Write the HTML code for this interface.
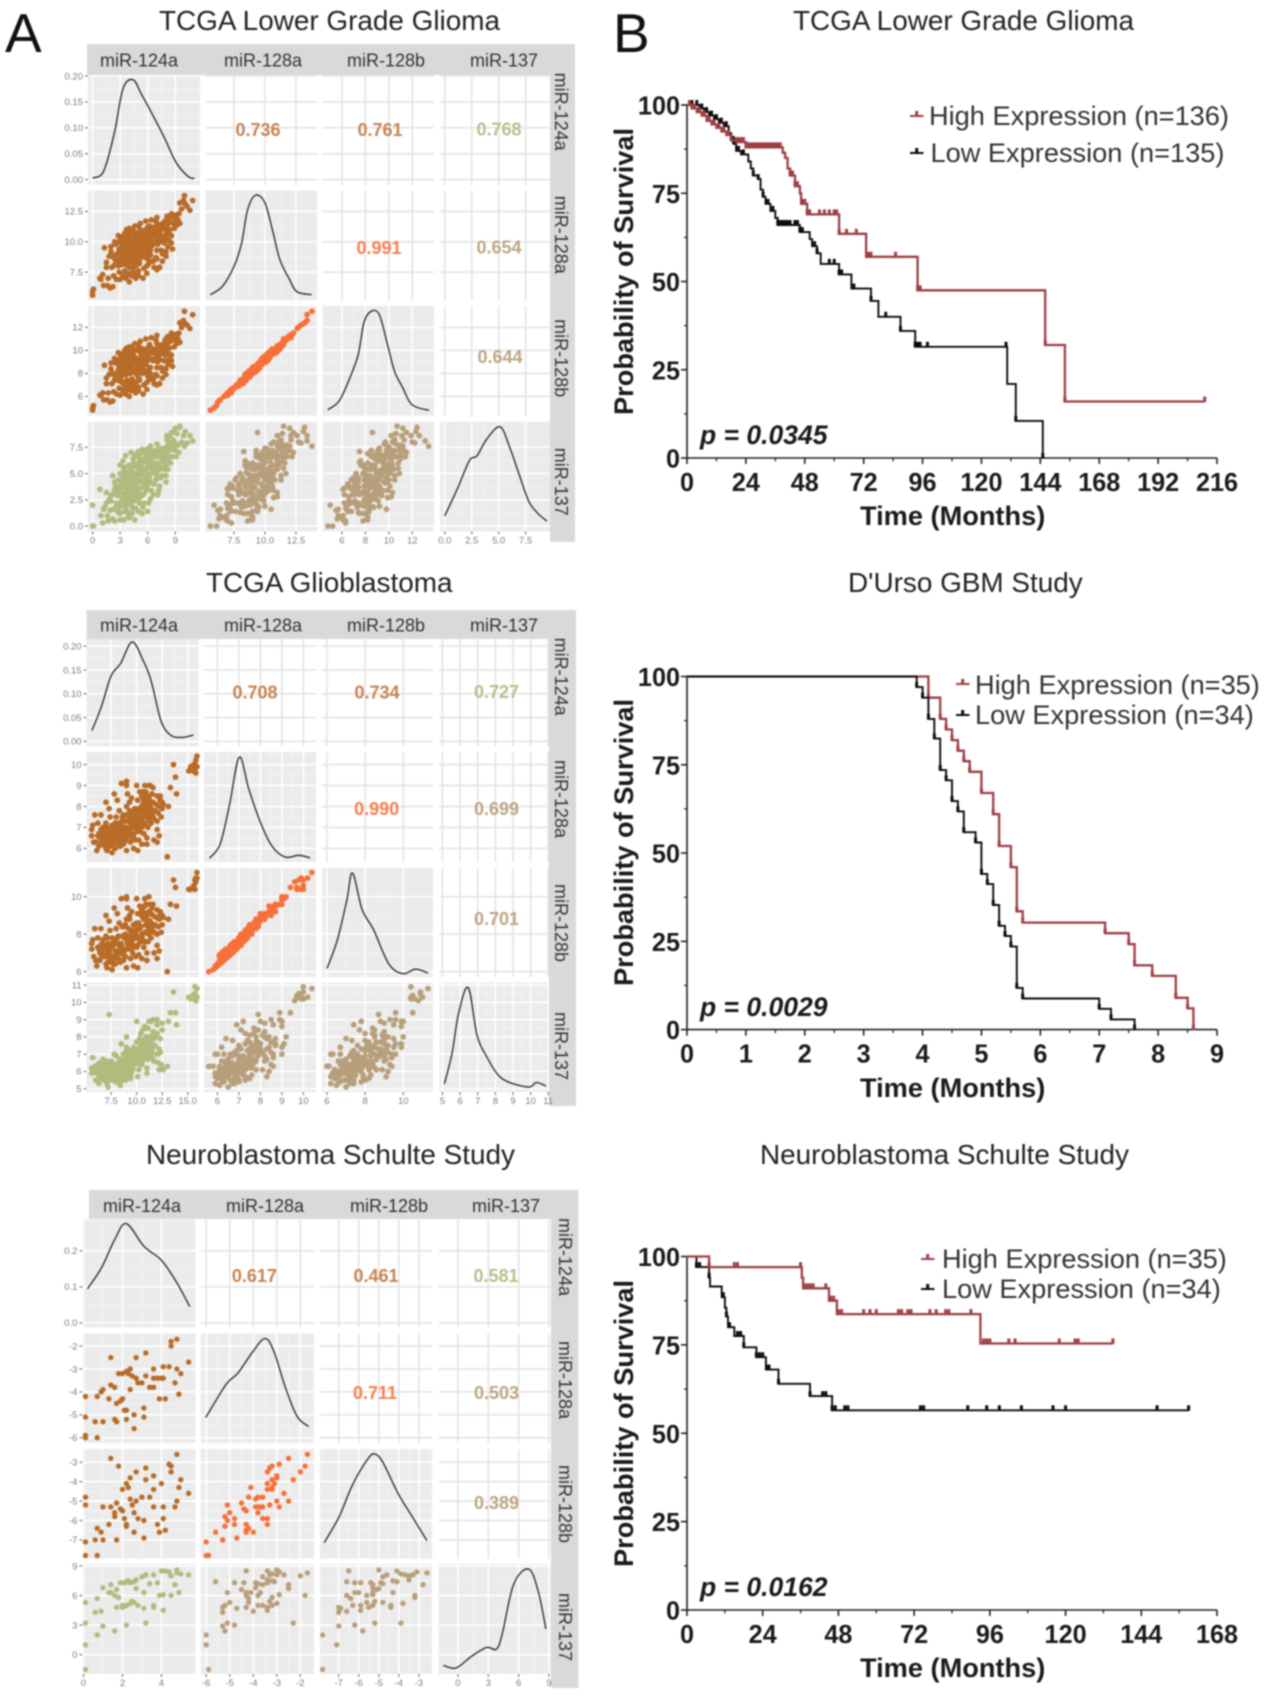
<!DOCTYPE html>
<html lang="en">
<head>
<meta charset="utf-8">
<title>miRNA correlation matrices and survival curves</title>
<style>
html,body{margin:0;padding:0;background:#fff;width:1269px;height:1702px;overflow:hidden}
svg{display:block;filter:blur(0.8px);font-family:"Liberation Sans",sans-serif}
.ttl{font-size:27.9px;fill:#222}
.strip{font-size:18px;fill:#333;text-anchor:middle;dominant-baseline:central}
.corr{font-size:18px;font-weight:bold;text-anchor:middle;dominant-baseline:central}
.tick-s{font-size:9.5px;fill:#7c7c7c}
.tick-k{font-size:26px;font-weight:bold;fill:#1a1a1a}
.ax{font-size:27.2px;font-weight:bold;fill:#1a1a1a}
.pv{font-size:26.5px;font-weight:bold;font-style:italic;fill:#1a1a1a}
.lg{font-size:27.2px;fill:#333}
</style>
</head>
<body>
<svg id="fig" xmlns="http://www.w3.org/2000/svg" width="1269" height="1702" viewBox="0 0 1269 1702">
<rect width="1269" height="1702" fill="#fff"/>
<g id="matrices"></g>
<g id="km"></g>

<text x="5" y="52" font-size="55" fill="#111">A</text>
<text x="613" y="52" font-size="55" fill="#111">B</text>

<text class="ttl" x="159" y="30">TCGA Lower Grade Glioma</text>
<text class="ttl" x="206" y="592">TCGA Glioblastoma</text>
<text class="ttl" x="146" y="1164">Neuroblastoma Schulte Study</text>
<text class="ttl" x="793" y="30">TCGA Lower Grade Glioma</text>
<text class="ttl" x="848" y="592">D'Urso GBM Study</text>
<text class="ttl" x="760" y="1164">Neuroblastoma Schulte Study</text>

<!-- matrix 1 strips -->
<g>
<text class="strip" x="139" y="60.5">miR-124a</text>
<text class="strip" x="263" y="60.5">miR-128a</text>
<text class="strip" x="386" y="60.5">miR-128b</text>
<text class="strip" x="504" y="60.5">miR-137</text>
<text class="strip" transform="translate(561,111.6) rotate(90)">miR-124a</text>
<text class="strip" transform="translate(561,234.8) rotate(90)">miR-128a</text>
<text class="strip" transform="translate(561,358.2) rotate(90)">miR-128b</text>
<text class="strip" transform="translate(561,481.8) rotate(90)">miR-137</text>
</g>
<g>
<text class="strip" x="139" y="625.4">miR-124a</text>
<text class="strip" x="263" y="625.4">miR-128a</text>
<text class="strip" x="386" y="625.4">miR-128b</text>
<text class="strip" x="504" y="625.4">miR-137</text>
<text class="strip" transform="translate(561,676.6) rotate(90)">miR-124a</text>
<text class="strip" transform="translate(561,799) rotate(90)">miR-128a</text>
<text class="strip" transform="translate(561,923) rotate(90)">miR-128b</text>
<text class="strip" transform="translate(561,1046) rotate(90)">miR-137</text>
</g>
<g>
<text class="strip" x="142" y="1206">miR-124a</text>
<text class="strip" x="265" y="1206">miR-128a</text>
<text class="strip" x="389" y="1206">miR-128b</text>
<text class="strip" x="506" y="1206">miR-137</text>
<text class="strip" transform="translate(565,1257) rotate(90)">miR-124a</text>
<text class="strip" transform="translate(565,1380) rotate(90)">miR-128a</text>
<text class="strip" transform="translate(565,1504) rotate(90)">miR-128b</text>
<text class="strip" transform="translate(565,1627) rotate(90)">miR-137</text>
</g>

<!-- correlations -->
<g>
<text class="corr" x="258" y="130" fill="#c68352">0.736</text>
<text class="corr" x="380" y="130" fill="#c68352">0.761</text>
<text class="corr" x="499" y="129.6" fill="#b5c08c">0.768</text>
<text class="corr" x="379" y="248" fill="#f67e4e">0.991</text>
<text class="corr" x="499" y="247.5" fill="#bda583">0.654</text>
<text class="corr" x="500" y="357" fill="#bda583">0.644</text>
</g>
<g>
<text class="corr" x="255" y="692.5" fill="#c68352">0.708</text>
<text class="corr" x="377" y="692.5" fill="#c68352">0.734</text>
<text class="corr" x="496.5" y="692" fill="#b5c08c">0.727</text>
<text class="corr" x="376.6" y="809" fill="#f67e4e">0.990</text>
<text class="corr" x="496.5" y="809" fill="#bda583">0.699</text>
<text class="corr" x="496.5" y="919" fill="#bda583">0.701</text>
</g>
<g>
<text class="corr" x="254.4" y="1276" fill="#c68352">0.617</text>
<text class="corr" x="376" y="1276" fill="#c68352">0.461</text>
<text class="corr" x="496" y="1276" fill="#b5c08c">0.581</text>
<text class="corr" x="375" y="1393" fill="#f67e4e">0.711</text>
<text class="corr" x="496.5" y="1393" fill="#bda583">0.503</text>
<text class="corr" x="496.5" y="1503" fill="#bda583">0.389</text>
</g>

<!-- KM labels -->
<text class="ax" x="860" y="525">Time (Months)</text>
<text class="ax" x="860" y="1097">Time (Months)</text>
<text class="ax" x="860" y="1677">Time (Months)</text>
<text class="ax" transform="translate(633,415) rotate(-90)">Probability of Survival</text>
<text class="ax" transform="translate(633,986) rotate(-90)">Probability of Survival</text>
<text class="ax" transform="translate(633,1567) rotate(-90)">Probability of Survival</text>
<text class="pv" x="700" y="444">p = 0.0345</text>
<text class="pv" x="700" y="1016">p = 0.0029</text>
<text class="pv" x="700" y="1596">p = 0.0162</text>

<text class="lg" x="929" y="125">High Expression (n=136)</text>
<text class="lg" x="930.5" y="162">Low Expression (n=135)</text>
<text class="lg" x="975" y="694">High Expression (n=35)</text>
<text class="lg" x="975" y="724">Low Expression (n=34)</text>
<text class="lg" x="942" y="1268">High Expression (n=35)</text>
<text class="lg" x="942" y="1298">Low Expression (n=34)</text>
</svg>

<script>
// ---------- Lower grade glioma expression values ----------
const lgg124a=[0.0,0.0,0.1,
0.9,1.1,0.8,1.2,
1.6,1.7,1.5,1.8,1.3,1.9,
2.2,2.3,2.1,2.4,2.0,2.5,2.4,2.6,
3.0,2.9,3.1,3.0,2.8,3.2,3.0,3.3,3.4,2.7,
3.6,3.5,3.7,3.6,3.4,3.7,3.5,3.8,3.9,3.9,3.3,4.0,
4.2,4.4,4.3,4.1,4.5,4.3,4.2,4.4,4.6,4.0,4.7,4.6,4.8,4.7,
5.0,5.1,4.9,5.2,5.0,4.9,5.3,5.1,5.2,5.4,5.5,5.5,5.4,5.6,
5.9,6.0,6.1,5.8,6.2,6.0,5.9,6.2,6.3,6.4,6.5,6.4,6.6,6.7,
6.9,7.0,7.1,7.0,6.8,7.2,7.0,6.9,7.3,7.4,7.5,7.5,7.6,7.3,
7.8,7.9,8.0,8.1,7.9,8.2,8.0,8.3,8.4,8.5,8.4,8.6,8.7,
8.9,9.0,9.1,9.2,9.0,9.3,8.8,9.5,9.4,8.6,
9.7,9.9,10.0,10.3,10.6,10.9,10.1,9.5,
2.6,2.7,2.8,2.5,2.9,3.0,3.1,3.2,3.2,3.3,
3.4,3.4,3.5,3.5,3.6,3.6,3.7,3.7,3.8,3.8,
3.9,3.9,4.0,4.0,4.1,4.2,4.2,4.3,4.4,4.4,
4.5,4.5,4.6,4.6,4.7,4.7,4.8,4.8,4.9,4.9,
5.0,5.0,5.1,5.1,5.2,5.2,5.3,5.3,5.4,5.4,
5.5,5.6,5.6,5.7,5.7,5.8,5.8,5.9,6.0,6.0,
6.1,6.2,6.3,6.3,6.5,6.5,6.6,6.7,6.8,6.9,
7.1,7.2,7.4,7.6,7.7,7.8,8.2,8.3,8.8,8.1,
2.0,2.4,3.0,3.5,4.0,4.6,5.2,5.8,6.4,7.0,3.7,4.3,5.0,2.8,
4.0,4.5,5.0,5.6,6.1,6.6,7.0,7.6,8.2,8.6,5.9,7.0,6.3,8.0,
2.2,1.5,3.0,3.6,4.2,7.2,8.0,5.0,5.5,6.0];
const lgg128a=[5.6,5.9,6.1,
6.9,7.3,7.0,6.4,
6.4,7.0,7.9,8.8,9.5,6.2,
6.3,7.2,7.9,8.6,9.2,9.8,8.1,6.9,
6.9,7.5,8.1,8.6,9.1,9.6,10.1,7.2,8.9,9.9,
7.0,7.6,8.2,8.7,9.2,9.6,10.0,10.4,7.3,9.0,10.4,6.7,
7.2,7.8,8.3,8.8,9.2,9.6,10.0,10.4,10.8,10.7,8.0,9.0,9.7,7.0,
7.6,8.2,8.7,9.1,9.5,10.0,10.3,10.7,11.0,8.8,9.7,7.0,9.0,10.6,
8.0,8.6,9.1,9.6,10.0,10.4,10.9,11.3,9.3,10.7,8.4,11.0,9.9,7.9,
8.7,9.3,9.8,10.2,10.6,11.0,11.4,11.7,10.0,10.6,11.2,9.3,8.4,7.9,
9.9,10.4,10.9,11.3,11.7,12.0,9.2,10.1,11.0,11.6,12.0,10.5,9.4,
11.1,11.7,12.2,11.4,12.0,11.8,12.1,11.5,12.3,12.3,
12.7,13.4,13.8,12.9,12.6,13.4,13.1,13.2,
8.4,9.0,8.0,8.9,9.4,8.4,8.8,9.2,8.3,9.8,
8.5,9.4,8.9,9.8,8.1,9.1,10.1,8.5,9.4,8.9,
9.9,8.3,9.4,7.9,9.9,9.0,8.5,10.3,9.4,8.7,
10.0,8.2,9.5,10.4,8.9,9.8,10.2,8.5,9.3,10.6,
9.0,10.1,9.7,8.5,10.4,9.3,9.9,10.9,9.5,10.2,
10.6,9.2,9.9,10.3,8.7,11.0,9.4,10.2,9.7,11.2,
10.6,9.6,10.3,11.0,9.7,10.9,10.4,11.2,9.9,10.9,
10.6,11.4,11.0,11.5,10.2,11.1,11.5,10.7,11.5,12.1,
9.6,10.0,10.4,10.7,11.1,11.3,11.5,11.7,11.8,12.0,11.0,11.0,11.3,10.5,
7.4,7.4,7.2,7.8,8.2,8.4,8.6,9.0,9.6,9.9,7.4,7.7,8.9,8.8,
8.8,8.3,9.3,9.5,9.8,10.3,10.5,8.3,9.4,9.0];
const lgg128b=[4.8,5.0,5.2,
6.1,6.3,6.1,5.7,
5.7,6.3,7.1,7.9,8.7,5.5,
5.6,6.4,7.1,7.8,8.4,8.9,7.4,6.2,
6.1,6.7,7.3,7.8,8.3,8.8,9.3,6.5,8.1,9.0,
6.2,6.8,7.4,7.9,8.4,8.8,9.2,9.6,6.6,8.2,9.6,6.0,
6.5,7.0,7.5,8.0,8.4,8.8,9.2,9.6,10.0,9.9,7.2,8.2,8.9,6.3,
6.8,7.4,7.9,8.3,8.7,9.2,9.5,9.9,10.2,8.0,8.9,6.2,8.2,9.8,
7.2,7.8,8.3,8.8,9.2,9.6,10.1,10.5,8.5,9.9,7.6,10.2,9.1,7.1,
7.9,8.5,9.0,9.4,9.8,10.2,10.6,10.9,9.2,9.8,10.4,8.5,7.6,7.1,
9.1,9.6,10.1,10.5,10.9,11.2,8.4,9.2,10.2,10.8,11.2,9.6,8.6,
10.3,10.9,11.4,10.6,11.2,11.0,11.3,10.7,11.5,11.5,
12.0,12.6,13.4,12.2,11.9,13.1,12.3,12.4,
7.9,8.0,7.4,7.9,8.6,7.9,7.7,8.6,7.2,9.2,
8.0,8.3,8.3,8.8,7.3,8.6,9.0,7.9,8.3,8.3,
9.4,7.2,8.8,6.9,9.1,8.5,7.4,9.8,8.3,8.1,
9.5,7.1,8.9,9.4,8.1,9.3,9.1,7.9,8.2,10.1,
8.5,9.0,9.1,7.5,9.9,8.2,9.4,9.8,8.9,9.2,
10.1,8.1,9.3,9.2,8.2,10.0,8.8,9.1,9.2,10.2,
10.1,8.5,9.7,9.9,9.2,9.8,9.9,10.1,9.3,9.9,
10.1,10.4,10.4,10.5,9.7,10.1,11.0,9.7,10.9,11.1,
8.9,9.3,9.7,10.0,10.3,10.6,10.8,11.0,11.1,11.3,10.2,10.3,10.5,9.8,
6.6,6.7,6.5,7.0,7.4,7.5,7.8,8.2,8.8,9.1,6.6,7.0,8.0,7.9,
8.0,7.6,8.5,8.7,9.0,9.5,9.7,7.5,8.6,8.2];
const lgg137=[0.0,2.0,0.0,
1.0,0.3,3.5,1.6,
1.0,0.5,2.2,2.5,1.8,1.5,
0.7,1.6,3.0,0.5,2.4,3.8,4.2,2.2,
0.6,2.2,3.2,1.2,4.4,2.6,5.0,4.0,0.6,3.4,
3.6,1.4,4.6,2.4,5.4,3.2,1.9,4.2,2.8,0.9,6.2,0.8,
2.0,3.4,1.2,4.8,2.8,5.8,3.8,6.4,4.4,5.2,5.0,0.6,3.0,1.7,
4.4,2.2,5.6,3.6,6.6,4.6,5.4,2.7,6.2,1.2,4.0,3.0,6.0,7.0,
3.5,5.0,2.2,6.4,4.4,5.6,6.9,4.8,7.2,3.4,5.8,6.2,5.2,4.0,
4.4,6.6,3.0,5.4,7.2,6.0,7.8,5.0,7.4,4.6,6.6,5.6,6.2,3.8,
6.2,5.4,7.0,8.2,6.6,7.6,4.8,6.6,8.6,6.0,7.2,7.8,8.9,
8.0,7.2,6.6,8.8,9.3,7.7,8.2,9.5,7.0,8.9,
8.0,8.6,7.6,7.9,8.6,8.1,9.0,9.4,
1.9,2.9,1.3,3.3,1.8,3.8,2.0,3.7,4.3,4.8,
3.0,2.0,4.1,5.6,1.8,3.0,4.9,5.1,1.4,3.7,
3.4,2.2,4.5,3.0,2.4,5.4,3.7,5.1,1.7,4.2,
6.0,2.4,3.3,4.8,4.0,6.8,3.6,5.6,2.6,5.0,
4.2,3.2,5.2,6.1,4.3,6.9,2.9,5.8,4.9,7.3,
3.8,5.4,6.4,4.6,3.2,5.4,4.2,7.3,4.9,6.0,
6.6,5.8,4.1,7.6,6.8,5.4,7.0,6.0,5.0,6.6,
5.8,7.0,5.4,7.2,6.8,7.4,6.4,8.0,7.6,8.6,
2.9,3.5,4.3,5.0,5.8,6.6,5.5,7.0,6.6,7.2,2.8,3.2,4.4,1.6,
2.4,3.6,1.4,2.2,4.6,3.0,5.0,4.8,5.4,6.6,3.8,4.6,2.6,5.8,
4.8,3.2,5.8,6.7,7.0,3.4,4.2,7.1,1.8,1.4];

// density curves
const lggDensX124a=[0,1.2,2.4,3.3,4.4,5.35,6.6,7.9,9.1,10.4,11.1];
const lggDensY124a=[0.003,0.016,0.092,0.175,0.193,0.164,0.123,0.078,0.033,0.006,0.002];
const lggDensX128a=[5.59,6.57,7.5,8.12,8.58,9.2,9.97,10.59,11.2,11.98,12.59,13.77];
const lggDensY128a=[0.7,9,28.8,52,84.5,100,93.5,66.5,36,16,3.6,0.7];
const lggDensX128b=[4.79,5.77,6.75,7.4,7.89,8.54,9.2,9.85,10.5,11.15,11.97,13.43];
const lggDensY128b=[1,10,35,57,89,100,96,68,39,24,6,0.4];
const lggDensX137=[0,1.21,2.28,2.99,3.88,5.12,6,6.9,7.8,8.68,9.47];
const lggDensY137=[10.7,39,66,71,87.5,100,80,52,25,12.5,5.4];

// ---------- Glioblastoma expression values ----------
const gbm124a=[5.6,5.7,5.8,5.9,5.6,
6.3,6.4,6.5,6.2,6.6,6.3,6.7,6.1,
7.0,7.1,7.3,7.2,7.0,7.4,7.1,7.5,7.3,7.5,7.6,7.2,7.6,
7.9,8.0,8.1,7.9,8.2,8.0,8.3,8.1,8.4,8.4,8.5,8.6,8.3,8.7,8.7,
8.9,9.0,9.1,8.9,9.2,9.0,9.3,9.1,9.0,9.4,9.3,9.5,9.6,9.4,9.7,9.7,9.5,9.6,
10.0,10.1,10.0,10.2,10.1,10.3,10.2,10.4,10.5,10.4,10.6,10.5,10.7,10.6,10.8,10.9,10.7,10.9,10.8,10.1,
11.0,11.1,11.2,11.1,11.3,11.2,11.4,11.5,11.4,11.6,11.5,11.3,11.7,11.8,11.2,11.7,11.9,11.6,
12.0,12.1,12.2,12.3,12.4,12.5,12.3,12.6,12.0,12.2,
13.0,13.1,13.6,13.8,13.9,13.3,
15.1,15.3,15.5,15.6,15.7,15.8,15.8,15.9,15.7,15.9,
6.0,6.2,6.4,6.5,6.6,6.8,6.8,6.9,6.9,7.0,
7.1,7.2,7.3,7.4,7.4,7.5,7.6,7.6,7.7,7.7,
7.8,7.8,7.9,7.9,8.0,8.1,8.2,8.2,8.3,8.3,
8.4,8.5,8.5,8.6,8.6,8.7,8.8,8.8,8.9,8.9,
9.0,9.1,9.1,9.2,9.2,9.3,9.3,9.4,9.5,9.5,
9.6,9.7,9.7,9.8,9.8,9.9,9.9,10.0,10.1,10.2,
10.3,10.3,10.4,10.5,10.5,10.6,10.7,10.8,10.9,11.0,
11.0,11.1,11.2,11.3,11.4,11.5,11.6,11.0,10.8,10.6,
6.5,7.0,7.8,8.5,9.0,10.0,12.0,12.5,10.5,11.0,12.0,9.0];
const gbm128a=[6.6,7.1,6.3,7.6,6.9,
6.1,6.5,6.9,7.2,6.3,6.7,7.0,5.9,
6.0,6.3,6.6,6.9,7.2,7.5,5.9,6.2,7.9,6.8,7.1,6.5,5.8,
6.0,6.3,6.6,6.9,7.2,7.5,7.8,8.3,6.1,6.5,6.9,7.3,6.8,6.2,7.6,
6.4,6.7,7.0,7.3,7.6,8.0,8.2,8.6,9.0,6.3,6.9,7.2,6.5,7.5,6.0,7.8,8.4,7.1,
6.8,7.2,7.5,7.9,8.3,8.7,6.4,7.0,7.4,7.7,8.1,8.5,6.7,7.1,7.5,7.8,8.3,8.7,9.0,5.9,
6.5,7.0,7.4,7.7,8.0,8.4,7.2,7.6,7.9,8.2,8.6,9.0,7.4,7.8,9.0,6.4,8.1,8.9,
7.3,7.7,8.0,8.3,7.5,7.9,8.5,8.1,6.9,6.6,
5.6,8.0,10.0,9.4,8.6,8.9,
9.7,9.9,9.7,10.0,9.8,10.2,9.6,10.4,10.0,9.9,
6.3,6.6,6.2,6.6,6.8,6.2,6.5,6.9,6.1,6.7,
7.0,6.2,6.4,6.8,6.1,6.5,6.7,6.3,7.0,6.1,
6.5,6.8,7.2,6.3,6.7,7.0,6.4,6.8,7.1,6.2,
6.7,7.1,6.4,6.8,7.5,6.6,7.0,6.3,6.8,7.6,
6.5,7.3,6.8,7.0,6.6,7.4,7.8,6.9,6.7,7.6,
7.3,7.0,6.6,7.4,7.9,7.1,6.4,7.7,7.0,7.4,
7.8,6.8,7.3,8.0,7.0,7.5,7.8,7.2,8.0,7.6,
8.2,7.5,7.9,7.3,8.2,7.8,7.5,8.5,8.4,8.7,
7.6,8.2,8.6,9.1,9.2,9.0,8.5,8.2,6.2,6.2,6.3,5.9];
const gbm128b=[7.2,7.7,6.8,8.3,7.5,
6.6,7.0,7.4,7.8,6.8,7.2,7.7,6.3,
6.4,6.8,7.1,7.5,7.9,8.2,6.2,6.6,8.7,7.3,7.8,7.0,6.1,
6.4,6.7,7.1,7.5,7.9,8.3,8.6,9.1,6.5,7.0,7.4,7.9,7.4,6.6,8.4,
6.8,7.2,7.6,8.0,8.3,8.8,9.0,9.4,9.9,6.7,7.4,7.8,7.0,8.2,6.3,8.5,9.2,7.7,
7.3,7.8,8.2,8.6,9.1,9.5,6.9,7.6,8.0,8.4,8.9,9.3,7.3,7.7,8.1,8.5,9.1,9.6,9.9,6.2,
7.0,7.6,8.0,8.4,8.7,9.2,7.8,8.3,8.6,9.0,9.4,9.6,8.1,8.5,10.0,7.0,8.9,9.6,
8.0,8.4,8.8,9.0,8.1,8.5,9.2,8.9,7.4,7.1,
6.0,8.8,10.9,10.5,9.5,9.6,
10.4,10.4,10.5,10.6,10.9,11.0,10.8,11.3,10.4,11.0,
6.6,7.3,6.6,7.0,7.5,6.9,7.2,7.3,6.8,7.4,
7.8,6.5,7.2,7.3,6.9,6.8,7.5,6.6,7.4,6.4,
6.8,7.5,7.6,7.1,7.0,7.8,6.7,7.5,7.4,7.0,
7.4,7.5,7.2,7.1,8.4,6.9,7.8,7.1,7.2,8.5,
7.2,7.7,7.5,7.4,7.4,7.9,8.8,7.2,7.5,8.0,
8.2,7.4,7.3,7.8,8.5,8.0,6.8,8.6,7.4,8.3,
8.3,7.6,7.7,9.0,7.8,8.0,8.8,7.6,9.1,8.1,
8.8,8.4,8.4,8.2,9.1,8.3,8.5,9.0,9.5,9.2,
8.3,9.0,9.4,9.9,10.0,9.9,9.3,9.0,6.7,6.6,6.7,6.2];
const gbm137=[5.9,6.8,6.0,6.3,6.2,
5.8,6.5,5.6,6.1,6.2,5.3,6.7,5.9,
5.6,6.1,5.9,6.4,5.8,6.2,5.3,6.6,9.3,5.5,6.0,5.1,6.3,
5.8,5.4,6.2,5.9,6.5,6.9,6.1,5.7,5.2,6.7,6.3,5.7,5.3,6.0,7.0,
6.4,6.9,6.1,5.5,6.6,7.2,6.9,6.3,7.4,5.8,7.2,6.8,6.2,5.6,7.0,7.4,6.0,6.5,
7.1,6.5,7.7,6.9,7.3,7.9,6.1,7.5,6.7,8.2,7.1,6.4,7.8,8.4,7.3,8.0,6.7,7.6,8.6,5.7,
6.2,6.7,7.8,8.5,7.3,8.0,8.9,7.1,7.7,8.3,6.8,7.0,6.6,7.5,8.9,7.9,8.1,9.0,
8.2,6.5,7.3,7.9,6.4,8.4,7.1,6.1,8.7,6.1,
6.3,8.9,10.6,9.4,8.7,9.4,
10.3,10.2,10.4,10.2,10.5,10.3,10.1,10.8,10.9,10.3,
5.5,6.4,6.0,5.9,6.4,5.5,6.0,5.7,6.3,5.9,
6.2,5.7,6.3,5.6,5.9,6.1,6.5,5.7,5.5,6.1,
5.9,6.4,6.2,5.6,6.0,5.4,6.4,5.8,6.3,5.5,
6.0,6.6,5.7,6.1,6.4,5.5,6.7,6.2,5.9,6.2,
5.7,6.6,6.2,5.9,7.0,6.3,7.1,6.4,6.0,7.2,
6.1,6.7,6.9,6.4,7.0,7.3,6.6,6.7,6.9,7.2,
6.6,7.0,6.4,7.6,7.3,6.9,7.7,6.9,7.2,7.5,
6.9,7.0,7.4,7.6,8.0,7.3,8.1,7.7,7.4,7.5,
5.8,6.6,7.0,7.6,8.0,8.9,9.0,8.8,7.4,5.9,7.0,7.0];

const gbmDensX124a=[5.63,6.56,7.5,8.44,9.56,10.68,11.43,12.37,13.3,14.43,15.55];
const gbmDensY124a=[0.0226,0.0737,0.1376,0.164,0.209,0.1677,0.126,0.0436,0.0135,0.0083,0.0135];
const gbmDensX128a=[5.63,6.125,6.57,7.02,7.46,8,8.54,9.16,9.79,10.32];
const gbmDensY128a=[0.7,14.4,54,100,68.6,36,12.6,1.8,3.6,1];
const gbmDensX128b=[6,6.54,7.04,7.34,7.84,8.44,9.24,9.98,10.64,11.3];
const gbmDensY128b=[5.4,33.5,73,100,64,44,10,0.4,4.7,1];
const gbmDensX137=[5.11,5.54,5.91,6.46,6.96,7.5,8.15,8.8,9.89,10.33,10.87];
const gbmDensY137=[5,35,74,100,53,32,14,6.4,1.8,6.4,2.8];

// ---------- Neuroblastoma expression values ----------
const nbl124a=[0.1,0.1,0.1,0.1,0.6,0.7,1.0,0.7,0.9,1.0,1.3,1.4,1.4,1.6,1.6,1.7,1.7,1.8,1.9,2.0,2.0,2.1,2.2,2.2,2.2,2.3,2.4,2.4,2.5,2.6,2.6,2.7,2.7,2.8,3.0,3.1,3.1,3.2,3.2,3.4,3.6,3.6,3.6,3.8,3.9,4.0,4.1,4.1,4.2,4.4,4.5,4.5,4.7,4.8,4.8,4.9,5.0,5.4];
const nbl128a=[-4.2,-5.1,-5.9,-6.0,-5.3,-6.0,-5.3,-4.2,-4.0,-3.9,-4.3,-2.5,-3.7,-3.8,-5.2,-5.3,-4.5,-3.2,-4.4,-4.3,-3.2,-4.8,-4.8,-5.2,-3.1,-3.2,-3.0,-3.9,-3.3,-5.6,-5.0,-3.4,-2.5,-3.6,-3.6,-5.1,-4.7,-3.3,-2.3,-3.8,-3.0,-3.4,-3.8,-3.4,-4.3,-3.4,-2.9,-3.4,-4.3,-2.9,-1.8,-2.0,-3.6,-3.0,-1.7,-4.1,-3.2,-2.7];
const nbl128b=[-4.8,-5.2,-7.8,-7.1,-7.0,-7.8,-7.0,-6.4,-6.6,-5.3,-6.2,-2.8,-5.3,-5.6,-5.8,-7.0,-5.1,-3.2,-5.4,-5.5,-4.4,-5.9,-6.2,-6.3,-4.1,-4.3,-3.8,-4.9,-5.2,-6.6,-5.6,-3.5,-5.0,-5.9,-4.8,-6.0,-6.9,-3.3,-3.9,-4.8,-3.7,-4.4,-5.3,-6.2,-6.6,-4.1,-5.3,-5.9,-6.5,-3.1,-3.2,-3.5,-5.3,-5.0,-2.6,-4.3,-3.9,-4.6];
const nbl137=[5.3,3.2,-1.5,1.0,4.3,2.0,2.9,5.7,4.4,6.8,6.3,7.1,6.3,6.0,2.4,4.8,6.6,5.8,7.3,4.8,5.0,7.3,3.0,5.0,7.4,7.5,5.2,7.3,5.4,7.4,5.3,7.6,6.7,5.0,7.9,6.3,4.7,8.1,3.2,7.2,8.1,4.8,5.0,7.3,6.0,8.5,6.1,4.5,8.5,8.4,6.0,8.0,7.1,8.6,8.3,6.3,8.2,8.1];

const nblDensX124a=[0.2,0.93,1.62,2.2,3.1,4.0,4.77,5.46];
const nblDensY124a=[0.0945,0.154,0.234,0.276,0.213,0.174,0.114,0.045];
const nblDensX128a=[-6.02,-5.15,-4.66,-4.02,-3.5,-3.12,-2.63,-2.14,-1.65];
const nblDensY128a=[20.6,54,65,86.7,100,86.7,50.5,21.7,11.5];
const nblDensX128b=[-7.72,-6.98,-6.31,-5.55,-5.2,-4.79,-4.03,-3.27,-2.6];
const nblDensY128b=[11,37,69,95,100,91.4,60,35,13];
const nblDensX137=[-1.44,-0.19,1.33,2.84,3.79,4.36,5.5,7,7.95,8.7];
const nblDensY137=[3.6,1,12.6,21.6,19.8,34,84.5,100,77,40];

// ---------- matrix ticks ----------
const lggXTicks=[[0,3,6,9],[7.5,10,12.5],[6,8,10,12],[0,2.5,5,7.5]];
const lggXLabels=[['0','3','6','9'],['7.5','10.0','12.5'],['6','8','10','12'],['0.0','2.5','5.0','7.5']];
const lggYTicks=[[0,0.05,0.1,0.15,0.2],[7.5,10,12.5],[6,8,10,12],[0,2.5,5,7.5]];
const lggYLabels=[['0.00','0.05','0.10','0.15','0.20'],['7.5','10.0','12.5'],['6','8','10','12'],['0.0','2.5','5.0','7.5']];
const gbmXTicks=[[7.5,10,12.5,15],[6,7,8,9,10],[6,8,10],[5,6,7,8,9,10,11]];
const gbmXLabels=[['7.5','10.0','12.5','15.0'],['6','7','8','9','10'],['6','8','10'],['5','6','7','8','9','10','11']];
const gbmYTicks=[[0,0.05,0.1,0.15,0.2],[6,7,8,9,10],[6,8,10],[5,6,7,8,9,10,11]];
const gbmYLabels=[['0.00','0.05','0.10','0.15','0.20'],['6','7','8','9','10'],['6','8','10'],['5','6','7','8','9','10','11']];
const nblXTicks=[[0,2,4],[-6,-5,-4,-3,-2],[-7,-6,-5,-4,-3],[0,3,6,9]];
const nblXLabels=[['0','2','4'],['-6','-5','-4','-3','-2'],['-7','-6','-5','-4','-3'],['0','3','6','9']];
const nblYTicks=[[0,0.1,0.2],[-6,-5,-4,-3,-2],[-7,-6,-5,-4,-3],[0,3,6,9]];
const nblYLabels=[['0.0','0.1','0.2'],['-6','-5','-4','-3','-2'],['-7','-6','-5','-4','-3'],['0','3','6','9']];

// ---------- survival data ----------
const km1Ticks=[0,24,48,72,96,120,144,168,192,216];
const km2Ticks=[0,1,2,3,4,5,6,7,8,9];
const km3Ticks=[0,24,48,72,96,120,144,168];
const kmYTicks=[0,25,50,75,100];

const km1HighT=[0,2,4,6,8,10,12,14,16,18,20,24,39,40,41,42,44,46,46.5,49,62,73,94,146,154,211];
const km1HighS=[100,99,98,97,95.5,94.5,93.5,92.5,91.5,90,89.5,88,86.5,85,82,80,77,75,72,69,63.5,57,47.5,32,16,16];
const km1HighC=[1,2,3,5,7,9,11,13,15,17,18,20,21,22,23,24,25,26,27,28,29,30,31,32,33,34,35,36,37,38,42,43,44,45,47,48,49,50,54,56,58,60,61,62,65,69,74,75,85,94,95,146,154,211];
const km1LowT=[0,5,7,9,11,13,15,17,18,19,20,22,25,26,27,29,30,31,32,34,36,37,46,50,51,53,54.5,62,67,75,78,87,93,130.5,134,145];
const km1LowS=[100,99,98,97,96,95,94,92,91,89,87,86,84,82,80,79,76,74,72,70,68,66,64,62,60,58,55,52,48,44.5,40,36,31.5,21,10.5,0];
const km1LowC=[2,4,6,8,10,12,14,16,19,21,23,27,29,31,33,35,37,38,39,40,41,42,44,45,46,47,52,53,58,60,62,63,68,75,81,87,93,94,95,98,130,134,145];

const km2HighT=[0,4.1,4.3,4.4,4.5,4.6,4.7,4.8,5.0,5.2,5.3,5.5,5.6,5.7,7.1,7.5,7.6,7.9,8.3,8.5,8.6];
const km2HighS=[100,94,88,85,82,79,76,73,67,61,52,46,33.5,30.3,27.3,24.2,18.2,15.2,9,6,0];
const km2HighC=[4.1,4.3,4.4,4.5,4.6,4.7,4.8,5.0,5.2,5.3,5.5,5.6,5.7,7.1,7.5,7.6,7.9,8.3,8.5,8.6];
const km2LowT=[0,3.9,4.0,4.1,4.2,4.3,4.4,4.5,4.6,4.7,4.9,5.0,5.1,5.2,5.3,5.4,5.5,5.6,5.7,7.0,7.2,7.6];
const km2LowS=[100,97,94,88,82.4,73.5,70.6,64.7,61.8,55.9,53,44.1,41.2,35.3,29.4,26.5,23.5,11.8,8.8,5.9,2.9,0];
const km2LowC=[3.9,4.0,4.1,4.2,4.3,4.4,4.5,4.6,4.7,4.9,5.0,5.1,5.2,5.3,5.4,5.5,5.6,5.7,7.0,7.2,7.6];

const km3HighT=[0,7,36.4,36.8,45,47.5,93,135];
const km3HighS=[100,97,94,91,87.5,83.7,75.4,75.4];
const km3HighC=[7,15,16,36,37,38,39,40,44,45.5,46.5,48,49,56,58,60,67,68,70,71,77,79,82,83,90,94,95,96,102,104,118,123,124,135];
const km3LowT=[0,3,7,7.3,11,12,12.5,13,15,18,22,25,29,39,46,159];
const km3LowS=[100,97,94,91.5,88.5,85.5,83,80,77.5,74.3,71.5,68,64,60.5,56.5,56.5];
const km3LowC=[3,4,7,11.5,12.5,13.5,16,17,18,22,23,24,25.5,26,29,39,43,44,46,47,50,51,74,75,89,95,99,106,116,120,149,159];

// ---------- drawing helpers ----------
const NS='http://www.w3.org/2000/svg';
function mk(parent,tag,attrs,name,text){
  const el=document.createElementNS(NS,tag);
  for(const k in attrs) el.setAttribute(k,attrs[k]);
  
  
  if(text!==undefined) el.textContent=text;
  parent.appendChild(el);
  return el;
}
function lin(dom,rng){return v=>rng[0]+(v-dom[0])/(dom[1]-dom[0])*(rng[1]-rng[0]);}
function smooth(pts){
  let d='M'+pts[0][0].toFixed(1)+' '+pts[0][1].toFixed(1);
  for(let i=0;i<pts.length-1;i++){
    const p0=pts[Math.max(0,i-1)],p1=pts[i],p2=pts[i+1],p3=pts[Math.min(pts.length-1,i+2)];
    const c1=[p1[0]+(p2[0]-p0[0])/6,p1[1]+(p2[1]-p0[1])/6];
    const c2=[p2[0]-(p3[0]-p1[0])/6,p2[1]-(p3[1]-p1[1])/6];
    d+=' C'+c1[0].toFixed(1)+' '+c1[1].toFixed(1)+' '+c2[0].toFixed(1)+' '+c2[1].toFixed(1)+' '+p2[0].toFixed(1)+' '+p2[1].toFixed(1);
  }
  return d;
}
const BROWN='#b86c28',ORANGE='#f6703a',GREEN='#afbc7e',TAN='#b89f7b';

function drawMatrix(m){
  const g=mk(document.getElementById('matrices'),'g',{},m.name+'-matrix');
  mk(g,'rect',{x:m.strip[0],y:m.strip[1],width:m.strip[2]-m.strip[0],height:m.stripH,fill:'#d9d9d9'},'column-strip');
  mk(g,'rect',{x:m.rstrip,y:m.strip[1],width:m.strip[2]-m.rstrip,height:m.strip[3]-m.strip[1],fill:'#d9d9d9'},'row-strip');
  const vars=m.vars;
  for(let r=0;r<4;r++){
    for(let c=0;c<4;c++){
      const L=m.cols[c][0],R=m.cols[c][1],T=m.rows[r][0],B=m.rows[r][1];
      const pg=mk(g,'g',{},'panel-r'+(r+1)+'-c'+(c+1));
      const sx=lin(m.xDom[c],[L,R]);
      const sy=lin(m.yDom[r],[B,T]);
      const upper=c>r;
      if(!upper) mk(pg,'rect',{x:L,y:T,width:R-L,height:B-T,fill:'#ebebeb'},'panel-background');
      const gridCol=upper?'#e2e2e2':'#ffffff';
      if(!upper){
        const xt=m.xTicks[c],yt=m.yTicks[r];
        for(let i=0;i<xt.length-1;i++){const v=sx((xt[i]+xt[i+1])/2);
          mk(pg,'line',{x1:v,x2:v,y1:T,y2:B,stroke:'#f5f5f5','stroke-width':0.7},'minor-gridline');}
        for(let i=0;i<yt.length-1;i++){const v=sy((yt[i]+yt[i+1])/2);
          mk(pg,'line',{x1:L,x2:R,y1:v,y2:v,stroke:'#f5f5f5','stroke-width':0.7},'minor-gridline');}
      }
      m.xTicks[c].forEach(t=>{const v=sx(t);
        mk(pg,'line',{x1:v,x2:v,y1:T,y2:B,stroke:gridCol,'stroke-width':1.5},'gridline-x');});
      m.yTicks[r].forEach(t=>{const v=sy(t);
        mk(pg,'line',{x1:L,x2:R,y1:v,y2:v,stroke:gridCol,'stroke-width':1.5},'gridline-y');});
      if(c===r){
        const dx=lin(m.xDom[c],[L,R]);
        const dy=lin(r===0?m.yDom[0]:m.densDom,[B,T]);
        const xs=m.densX[c],ys=m.densY[c];
        const pts=xs.map((x,i)=>[dx(x),dy(ys[i])]);
        mk(pg,'path',{d:smooth(pts),fill:'none',stroke:'#222','stroke-width':1.3},'density-curve');
      } else if(c<r){
        let col=BROWN;
        if(r===3&&c===0) col=GREEN;
        else if(r===2&&c===1) col=ORANGE;
        else if(r===3) col=TAN;
        const xv=vars[c],yv=vars[r];
        xv.forEach((x,i)=>{
          mk(pg,'circle',{cx:sx(x).toFixed(1),cy:sy(yv[i]).toFixed(1),r:m.r,fill:col},'scatter-point');
        });
      }
      if(c===0){
        m.yTicks[r].forEach((t,i)=>{const v=sy(t);
          mk(pg,'line',{x1:L-3,x2:L,y1:v,y2:v,stroke:'#666','stroke-width':1},'y-tick');
          mk(pg,'text',{class:'tick-s',x:L-5,y:v+3.3,'text-anchor':'end'},'y-tick-label',m.yLabels[r][i]);
        });
      }
      if(r===3){
        m.xTicks[c].forEach((t,i)=>{const v=sx(t);
          mk(pg,'line',{x1:v,x2:v,y1:B,y2:B+3,stroke:'#666','stroke-width':1},'x-tick');
          mk(pg,'text',{class:'tick-s',x:v,y:B+12,'text-anchor':'middle'},'x-tick-label',m.xLabels[c][i]);
        });
      }
    }
  }
}

drawMatrix({name:'lgg',
  strip:[87,44,575,542],stripH:31,rstrip:550,r:2.9,
  cols:[[88,200],[205.4,317],[322.6,434],[440,550]],
  rows:[[75,184.6],[190.4,300.4],[306,415.7],[421.8,531.4]],
  xDom:[[-0.5,11.7],[5.2,14.2],[4.35,13.85],[-0.45,9.76]],
  yDom:[[-0.0097,0.202],[5.17,14.23],[4.32,13.86],[-0.5,9.92]],
  densDom:[-5,105],
  vars:[lgg124a,lgg128a,lgg128b,lgg137],
  densX:[lggDensX124a,lggDensX128a,lggDensX128b,lggDensX137],
  densY:[lggDensY124a,lggDensY128a,lggDensY128b,lggDensY137],
  xTicks:lggXTicks,xLabels:lggXLabels,yTicks:lggYTicks,yLabels:lggYLabels});
drawMatrix({name:'gbm',
  strip:[86.6,610,576,1106],stripH:29,rstrip:549,r:2.9,
  cols:[[86.6,198.5],[204,316],[322,433],[439.5,548.6]],
  rows:[[639,746.4],[752,862],[868,977],[982.5,1092]],
  xDom:[[5.1,16.05],[5.375,10.59],[5.74,11.56],[4.83,11.02]],
  yDom:[[-0.0105,0.215],[5.35,10.6],[5.71,11.54],[4.81,11.15]],
  densDom:[-3,105],
  vars:[gbm124a,gbm128a,gbm128b,gbm137],
  densX:[gbmDensX124a,gbmDensX128a,gbmDensX128b,gbmDensX137],
  densY:[gbmDensY124a,gbmDensY128a,gbmDensY128b,gbmDensY137],
  xTicks:gbmXTicks,xLabels:gbmXLabels,yTicks:gbmYTicks,yLabels:gbmYLabels});
drawMatrix({name:'neuroblastoma',
  strip:[89,1190,578.5,1688],stripH:29,rstrip:551,r:2.7,
  cols:[[82.4,195.4],[200.8,314],[320,432],[438.7,551]],
  rows:[[1219.6,1327.5],[1333.5,1443],[1449,1558.6],[1564,1674]],
  xDom:[[-0.06,5.75],[-6.23,-1.42],[-7.93,-2.35],[-1.9,9.2]],
  yDom:[[-0.013,0.287],[-6.23,-1.45],[-7.96,-2.32],[-1.96,9.2]],
  densDom:[-5,105],
  vars:[nbl124a,nbl128a,nbl128b,nbl137],
  densX:[nblDensX124a,nblDensX128a,nblDensX128b,nblDensX137],
  densY:[nblDensY124a,nblDensY128a,nblDensY128b,nblDensY137],
  xTicks:nblXTicks,xLabels:nblXLabels,yTicks:nblYTicks,yLabels:nblYLabels});

// ---------- survival ----------
const HIGH='#9e3f44',LOW='#0c0c0c';
function survAt(t,T,S){let s=S[0];for(let i=0;i<T.length;i++){if(T[i]<=t)s=S[i];}return s;}
function drawSeries(g,sx,sy,T,S,C,color,w,label){
  let d='M'+sx(T[0]).toFixed(1)+' '+sy(S[0]).toFixed(1);
  for(let i=1;i<T.length;i++){
    d+=' H'+sx(T[i]).toFixed(1)+' V'+sy(S[i]).toFixed(1);
  }
  mk(g,'path',{d:d,fill:'none',stroke:color,'stroke-width':w},label+'-survival-line');
  C.forEach(t=>{
    const x=sx(t),y=sy(survAt(t,T,S));
    mk(g,'line',{x1:x,x2:x,y1:y+0.5,y2:y-5,stroke:color,'stroke-width':3},label+'-censor-mark');
  });
}
function drawKM(k){
  const g=mk(document.getElementById('km'),'g',{},k.name);
  const sx=lin([0,k.xMax],[687,1217]);
  const sy=lin([0,100],[k.y0,k.y100]);
  const axis='#222';
  mk(g,'line',{x1:687,x2:687,y1:k.y100,y2:k.y0+0.7,stroke:axis,'stroke-width':1.6},'y-axis');
  mk(g,'line',{x1:687,x2:1217,y1:k.y0,y2:k.y0,stroke:axis,'stroke-width':1.6},'x-axis');
  kmYTicks.forEach((t,i)=>{
    const y=sy(t);
    mk(g,'line',{x1:681,x2:687,y1:y,y2:y,stroke:axis,'stroke-width':1.6},'y-tick');
    mk(g,'text',{class:'tick-k',transform:'translate(680,'+(y+9.5)+') scale(0.97,1)','text-anchor':'end'},'y-tick-label',String(t));
    if(i<kmYTicks.length-1){
      const m=sy((t+kmYTicks[i+1])/2);
      mk(g,'line',{x1:684,x2:687,y1:m,y2:m,stroke:axis,'stroke-width':1.2},'y-minor-tick');
    }
  });
  k.ticks.forEach((t,i)=>{
    const x=sx(t);
    mk(g,'line',{x1:x,x2:x,y1:k.y0,y2:k.y0+6,stroke:axis,'stroke-width':1.6},'x-tick');
    mk(g,'text',{class:'tick-k',transform:'translate('+x+','+(k.y0+33)+') scale(0.97,1)','text-anchor':'middle'},'x-tick-label',String(t));
    if(i<k.ticks.length-1){
      const m=sx((t+k.ticks[i+1])/2);
      mk(g,'line',{x1:m,x2:m,y1:k.y0,y2:k.y0+3.5,stroke:axis,'stroke-width':1.2},'x-minor-tick');
    }
  });
  const high=()=>drawSeries(g,sx,sy,k.hT,k.hS,k.hC,HIGH,2.3,'high-expression');
  const low=()=>drawSeries(g,sx,sy,k.lT,k.lS,k.lC,LOW,1.9,'low-expression');
  if(k.lowOnTop){high();low();}else{low();high();}
  [[k.lgHigh,HIGH,'legend-high-swatch'],[k.lgLow,LOW,'legend-low-swatch']].forEach(a=>{
    const l=a[0];
    mk(g,'line',{x1:l[0],x2:l[0]+13.5,y1:l[1],y2:l[1],stroke:a[1],'stroke-width':2},a[2]);
    mk(g,'line',{x1:l[0]+6.7,x2:l[0]+6.7,y1:l[1],y2:l[1]-5,stroke:a[1],'stroke-width':3},a[2]+'-tick');
  });
}
drawKM({name:'km-lgg',xMax:216,ticks:km1Ticks,y0:458,y100:105,hT:km1HighT,hS:km1HighS,hC:km1HighC,lT:km1LowT,lS:km1LowS,lC:km1LowC,lgHigh:[910,116],lgLow:[910,153]});
drawKM({name:'km-durso',xMax:9,ticks:km2Ticks,y0:1029.6,y100:676.5,hT:km2HighT,hS:km2HighS,hC:km2HighC,lT:km2LowT,lS:km2LowS,lC:km2LowC,lgHigh:[956,684],lgLow:[956,715],lowOnTop:true});
drawKM({name:'km-neuroblastoma',xMax:168,ticks:km3Ticks,y0:1610,y100:1256.5,hT:km3HighT,hS:km3HighS,hC:km3HighC,lT:km3LowT,lS:km3LowS,lC:km3LowC,lgHigh:[921,1259],lgLow:[921,1289]});
</script>
</body>
</html>
